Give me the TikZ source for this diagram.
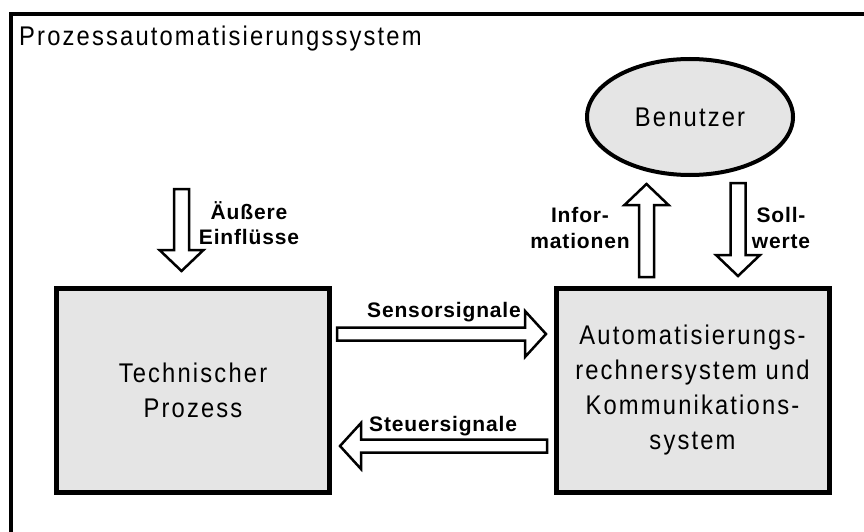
\documentclass[tikz,border=0pt]{standalone}
\usepackage{fontspec}
\setmainfont{Liberation Sans}[LetterSpace=4]
\newfontfamily\trackedfont{Liberation Sans}[FakeStretch=0.88, LetterSpace=8]
\usetikzlibrary{calc,shapes.geometric}
\definecolor{boxgray}{RGB}{229,229,229}

% hollow block arrow: #1 start, #2 tip, #3 shaft half-width, #4 head half-width, #5 head length
\newcommand\fatarrow[5]{%
  \coordinate (fa-h) at ($(#2)!#5!(#1)$);
  \draw[blockarrow]
    ($(#1)!#3!90:(#2)$) -- ($(fa-h)!#3!90:(#2)$) -- ($(fa-h)!#4!90:(#2)$) --
    (#2) --
    ($(fa-h)!#4!-90:(#2)$) -- ($(fa-h)!#3!-90:(#2)$) -- ($(#1)!#3!-90:(#2)$) -- cycle;
}

\tikzset{
  frame/.style={line width=4pt},
  block/.style={draw, line width=5pt, fill=boxgray, minimum width=273pt,
    minimum height=204pt, align=center, inner sep=0pt,
    font=\trackedfont\fontsize{27}{35}\selectfont},
  userbox/.style={draw, ellipse, line width=4pt, fill=boxgray, minimum width=206pt,
    minimum height=116pt, inner sep=0pt},
  plain/.style={inner sep=0pt, font=\trackedfont\fontsize{27}{31}\selectfont},
  lbl/.style={inner sep=0pt, font=\fontsize{21}{25}\selectfont\bfseries},
  blockarrow/.style={draw, fill=white, line width=2.5pt, line join=miter},
}

\begin{document}
\begin{tikzpicture}[x=1pt, y=-1pt]
  \clip (0,0) rectangle (864,532);
  \fill[white] (0,0) rectangle (864,532);

  % outer system frame (runs past the right and bottom edges)
  \draw[frame] (11,560) -- (11,14) -- (900,14);
  \node[plain, anchor=base west] (title) at (19,46) {Prozessautomatisierungssystem};

  % main blocks
  \node[block] (tp) at (193,390) {Technischer\\Prozess};
  \node[block] (ars) at (692.5,390)
    {Automatisierungs-\\rechnersystem und\\Kommunikations-\\system};
  \node[userbox] (user) at (690,117) {};
  \node[plain, anchor=base] (userlbl) at (690,126) {Benutzer};

  % arrow end points
  \coordinate (extS) at (181.5,189);   \coordinate (extE) at (181.5,271);
  \coordinate (sensS) at (337,334);    \coordinate (sensE) at (546,334);
  \coordinate (steuS) at (547,446);    \coordinate (steuE) at (340,446);
  \coordinate (infoS) at (646.5,277);  \coordinate (infoE) at (646.5,184);
  \coordinate (sollS) at (738,183);    \coordinate (sollE) at (738,276);

  \fatarrow{extS}{extE}{7.5pt}{22pt}{21pt}
  \fatarrow{sensS}{sensE}{6.5pt}{23pt}{21pt}
  \fatarrow{steuS}{steuE}{6.5pt}{23pt}{21pt}
  \fatarrow{infoS}{infoE}{7.5pt}{22pt}{21pt}
  \fatarrow{sollS}{sollE}{7.5pt}{22pt}{21pt}

  % arrow labels
  \node[lbl, anchor=base] (ext1) at (249,219) {Äußere};
  \node[lbl, anchor=base] (ext2) at (249,244) {Einflüsse};
  \node[lbl, anchor=base west] (sens) at (367,317) {Sensorsignale};
  \node[lbl, anchor=base west] (steu) at (369,431) {Steuersignale};
  \node[lbl, anchor=base] (info1) at (580,222) {Infor-};
  \node[lbl, anchor=base] (info2) at (580,248) {mationen};
  \node[lbl, anchor=base] (soll1) at (781,222) {Soll-};
  \node[lbl, anchor=base] (soll2) at (781,248) {werte};
\end{tikzpicture}
\end{document}
